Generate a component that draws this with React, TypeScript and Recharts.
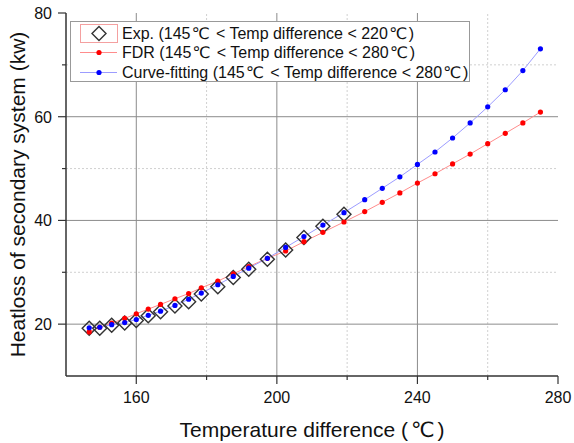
import React from 'react';
import { LineChart, Line, XAxis, YAxis, ReferenceLine, Legend } from 'recharts';

// temperature difference (℃) of each point
const tempDiff = [
  146.6, 149.6, 153.0, 156.7, 160.0, 163.4, 166.9, 171.0, 174.9, 178.5, 183.2, 187.6, 192.0, 197.3, 202.5,
  207.7, 213.1, 219.1, 225, 230, 235, 240, 245, 250, 255, 260, 265, 270, 275,
];
// measured heat loss (kw), only up to 220℃
const expHeatloss = [
  19.2, 19.2, 19.8, 20.2, 20.7, 21.6, 22.4, 23.5, 24.3, 25.8, 27.2, 29.0, 30.6, 32.5, 34.3, 36.7, 38.9, 41.2,
];
const fdrHeatloss = [
  18.5, 19.4, 20.2, 21.1, 22.0, 22.9, 23.8, 24.9, 25.9, 27.0, 28.3, 29.7, 31.1, 32.7, 34.1, 35.9, 37.7, 39.7,
  41.7, 43.5, 45.3, 47.2, 49.0, 50.9, 52.8, 54.8, 56.8, 58.8, 60.9,
];
const fitHeatloss = [
  19.3, 19.4, 19.9, 20.3, 20.9, 21.7, 22.5, 23.6, 24.8, 26.0, 27.6, 29.2, 30.8, 32.7, 34.8, 36.9, 39.1, 41.5,
  44.0, 46.2, 48.4, 50.8, 53.2, 55.9, 58.8, 61.9, 65.2, 68.9, 73.1,
];

const xTicks = [140, 160, 180, 200, 220, 240, 260, 280];
const yTicks = [10, 20, 30, 40, 50, 60, 70, 80];
const xMajorGrid = [160, 200, 240];
const xMinorGrid = [180, 220, 260];
const yMajorGrid = [20, 40, 60];
const yMinorGrid = [30, 50, 70];

const legendLabels = [
  'Exp. (145℃ < Temp difference < 220℃)',
  'FDR (145℃ < Temp difference < 280℃)',
  'Curve-fitting (145℃ < Temp difference < 280℃)',
];
const xLabel = 'Temperature difference (℃)';
const yLabel = 'Heatloss of secondary system (kw)';

const chartData = tempDiff.map((t, i) => ({
  t,
  exp: expHeatloss[i],
  fdr: fdrHeatloss[i],
  fit: fitHeatloss[i],
}));

const FONT = "'Liberation Sans', Arial, sans-serif";
const DEG_FONT = "'DejaVu Sans', sans-serif";
const AXIS = '#333';

// the degree sign in the original is a wide glyph with space around it
const splitDeg = (s: string) => s.split(/(℃)/).filter((p) => p !== '');

const BottomTick = (props: any) => {
  const { x, y, payload } = props;
  const v = payload.value;
  if (v === 140) return <g />;
  const major = v % 40 === 0;
  return (
    <g>
      <line x1={x} x2={x} y1={y} y2={y + (major ? 8 : 4)} stroke={AXIS} strokeWidth={1.2} />
      {major && (
        <text x={x} y={y + 27} textAnchor="middle" fontSize={16} fill="#111" fontFamily={FONT}>
          {v}
        </text>
      )}
    </g>
  );
};

const LeftTick = (props: any) => {
  const { x, y, payload } = props;
  const v = payload.value;
  if (v === 10) return <g />;
  const major = v % 20 === 0;
  return (
    <g>
      <line x1={x} x2={x - (major ? 8 : 4)} y1={y} y2={y} stroke={AXIS} strokeWidth={1.2} />
      {major && (
        <text x={x - 14} y={y + 6} textAnchor="end" fontSize={16} fill="#111" fontFamily={FONT}>
          {v}
        </text>
      )}
    </g>
  );
};

const TopTick = (props: any) => {
  const { x, y, payload } = props;
  if (payload.value === 140 || payload.value === 280) return <g />;
  return <line x1={x} x2={x} y1={y} y2={y + 5} stroke={AXIS} strokeWidth={1.2} />;
};

const RightTick = (props: any) => {
  const { x, y, payload } = props;
  if (payload.value === 10 || payload.value === 80) return <g />;
  return <line x1={x} x2={x - 5} y1={y} y2={y} stroke={AXIS} strokeWidth={1.2} />;
};

const XAxisLabel = (props: any) => {
  const vb = props.viewBox || {};
  let afterDeg = false;
  return (
    <text
      x={vb.x + vb.width / 2}
      y={vb.y + 61}
      textAnchor="middle"
      fontSize={21}
      fill="#111"
      fontFamily={FONT}
    >
      {splitDeg(xLabel).map((p, i) => {
        if (p === '℃') {
          afterDeg = true;
          return (
            <tspan key={i} fontFamily={DEG_FONT} dx={3}>
              {p}
            </tspan>
          );
        }
        const dx = afterDeg ? 3 : 0;
        afterDeg = false;
        return (
          <tspan key={i} dx={dx}>
            {p}
          </tspan>
        );
      })}
    </text>
  );
};

const Diamond = (props: any) => {
  const { cx, cy, index } = props;
  if (cx == null || cy == null) return <g key={`dm-${index}`} />;
  const s = 7;
  return (
    <path
      key={`dm-${index}`}
      d={`M${cx},${cy - s}L${cx + s},${cy}L${cx},${cy + s}L${cx - s},${cy}Z`}
      fill="none"
      stroke="#333"
      strokeWidth={1.4}
    />
  );
};

const renderLegend = () => (
  <div
    style={{
      position: 'relative',
      boxSizing: 'border-box',
      width: 400,
      height: 61,
      border: '1px solid #999',
      background: '#fff',
      fontFamily: FONT,
      fontSize: 16,
      lineHeight: '17px',
      color: '#111',
    }}
  >
    {legendLabels.map((label, i) => (
      <div
        key={label}
        style={{
          position: 'absolute',
          left: 9,
          top: 1.5 + i * 19.7,
          height: 19,
          display: 'flex',
          alignItems: 'center',
          whiteSpace: 'nowrap',
        }}
      >
        <svg width={40} height={19} style={{ marginRight: 2 }}>
          {i === 0 ? (
            <g>
              <rect x={0.5} y={0.5} width={37} height={18} fill="none" stroke="#f4a0a0" />
              <path d="M19,2.5L26,9.5L19,16.5L12,9.5Z" fill="none" stroke="#333" strokeWidth={1.4} />
            </g>
          ) : (
            <g>
              <line x1={0} x2={37} y1={9.5} y2={9.5} stroke={i === 1 ? '#ff8c8c' : '#9c9cff'} />
              <circle cx={19} cy={9.5} r={2.6} fill={i === 1 ? '#ff0000' : '#0000ff'} />
            </g>
          )}
        </svg>
        <span>
          {splitDeg(label).map((p, k) =>
            p === '℃' ? (
              <span key={k} style={{ fontFamily: DEG_FONT, margin: '0 2px 0 1px' }}>
                {p}
              </span>
            ) : (
              <span key={k}>{p}</span>
            ),
          )}
        </span>
      </div>
    ))}
  </div>
);

export default function App() {
  return (
    <div style={{ position: 'absolute', left: 0, top: 0, background: '#fff' }}>
      <LineChart width={574} height={443} data={chartData} margin={{ top: 13, right: 16, bottom: 0, left: 0 }}>
        {xMinorGrid.map((v) => (
          <ReferenceLine key={`xm-${v}`} x={v} stroke="#d0d0d0" strokeDasharray="2 2" />
        ))}
        {yMinorGrid.map((v) => (
          <ReferenceLine key={`ym-${v}`} y={v} stroke="#d0d0d0" strokeDasharray="2 2" />
        ))}
        {xMajorGrid.map((v) => (
          <ReferenceLine key={`xM-${v}`} x={v} stroke="#8c8c8c" />
        ))}
        {yMajorGrid.map((v) => (
          <ReferenceLine key={`yM-${v}`} y={v} stroke="#8c8c8c" />
        ))}
        <XAxis
          dataKey="t"
          type="number"
          domain={[140, 280]}
          ticks={xTicks}
          interval={0}
          tickSize={0}
          tickMargin={0}
          tick={<BottomTick />}
          height={67}
          axisLine={{ stroke: AXIS, strokeWidth: 1.5 }}
          label={<XAxisLabel />}
        />
        <XAxis
          xAxisId="top"
          orientation="top"
          dataKey="t"
          type="number"
          domain={[140, 280]}
          ticks={xTicks}
          interval={0}
          tickSize={0}
          tickMargin={0}
          tick={<TopTick />}
          height={0}
          axisLine={{ stroke: AXIS, strokeWidth: 1.5 }}
        />
        <YAxis
          type="number"
          domain={[10, 80]}
          ticks={yTicks}
          interval={0}
          tickSize={0}
          tickMargin={0}
          tick={<LeftTick />}
          width={66}
          axisLine={{ stroke: AXIS, strokeWidth: 1.5 }}
          label={{ value: yLabel, angle: -90, position: 'center', dx: -15, fontSize: 21, fill: '#111', fontFamily: FONT }}
        />
        <YAxis
          yAxisId="right"
          orientation="right"
          type="number"
          domain={[10, 80]}
          ticks={yTicks}
          interval={0}
          tickSize={0}
          tickMargin={0}
          tick={<RightTick />}
          width={0}
          axisLine={{ stroke: AXIS, strokeWidth: 1.5 }}
        />
        <Line
          dataKey="exp"
          stroke="none"
          isAnimationActive={false}
          dot={(p: any) => <Diamond key={`dm-${p.index}`} {...p} />}
          activeDot={false}
          connectNulls={false}
        />
        <Line
          dataKey="fdr"
          type="linear"
          stroke="#ff8c8c"
          strokeWidth={1}
          isAnimationActive={false}
          dot={{ r: 2.6, fill: '#ff0000', stroke: 'none' }}
          activeDot={false}
        />
        <Line
          dataKey="fit"
          type="linear"
          stroke="#9c9cff"
          strokeWidth={1}
          isAnimationActive={false}
          dot={{ r: 2.6, fill: '#0000ff', stroke: 'none' }}
          activeDot={false}
        />
        <Legend
          layout="vertical"
          align="center"
          verticalAlign="middle"
          wrapperStyle={{ left: 70, top: 21, width: 400, height: 61 }}
          content={renderLegend}
        />
      </LineChart>
    </div>
  );
}
